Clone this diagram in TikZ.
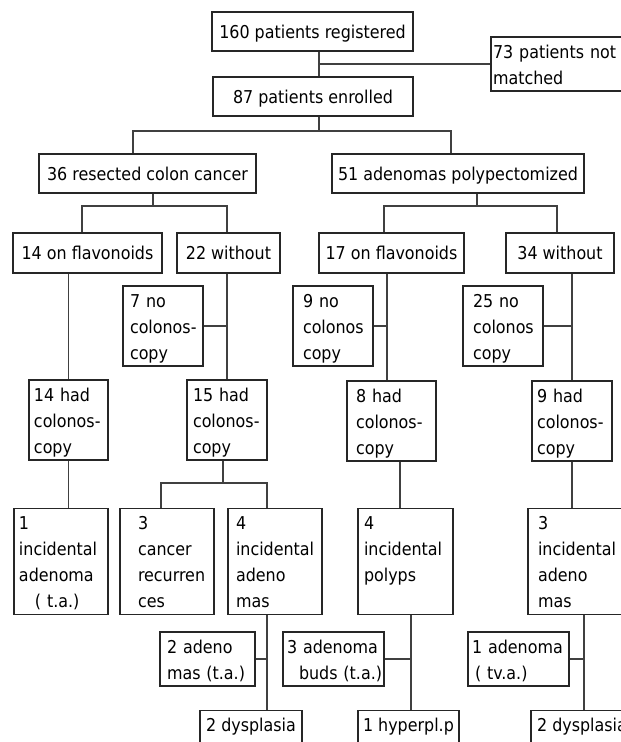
\documentclass[tikz,border=0pt]{standalone}
\usepackage{fontspec}
\setmainfont{DejaVu Sans Condensed}
\usepackage{tikz}
\hyphenpenalty=10000
\exhyphenpenalty=10000
\newcommand{\topstrut}{\rule{0pt}{21pt}}
\newcommand{\botstrut}{\rule[-7pt]{0pt}{7pt}}

\begin{document}
\begin{tikzpicture}[x=1pt, y=-1pt,
    box/.style={draw=black!85, line width=1.1pt, inner sep=0pt, font=\fontsize{17.7}{26}\selectfont,
        text height=13pt, text depth=0pt, minimum height=39pt},
    multi/.style={draw=black!85, line width=1.1pt, inner sep=0pt, font=\fontsize{17.7}{26}\selectfont,
        align=left, execute at begin node=\topstrut, execute at end node=\botstrut},
    last/.style={box, anchor=north, text depth=16pt, inner ysep=7.5pt},
    link/.style={draw=black!75, line width=1.1pt}]
    \useasboundingbox (0,0) rectangle (621,742);

    \node[box, minimum width=201pt] (reg) at (312.5,31.5) {160 patients registered};
    \node[box, minimum width=200pt] (enr) at (313,96.5) {87 patients enrolled};
    \node[multi, minimum width=134pt, text width=130pt] (nm) at (558,64) {73~patients~not\\matched};

    \node[box, minimum width=217pt] (rcc) at (147.5,173.5) {36 resected colon cancer};
    \node[box, minimum width=252pt] (ap) at (458,173.5) {51 adenomas polypectomized};

    \node[box, minimum width=149pt, minimum height=40pt] (fl1) at (87.5,253) {14 on flavonoids};
    \node[box, minimum width=103pt, minimum height=40pt] (wo1) at (228.5,253) {22 without};
    \node[box, minimum width=145pt, minimum height=40pt] (fl2) at (391.5,253) {17 on flavonoids};
    \node[box, minimum width=108pt, minimum height=40pt] (wo2) at (560,253) {34 without};

    \node[multi, minimum width=80pt, text width=66pt] (nc1) at (163,326) {7~no\\colonos-\\copy};
    \node[multi, minimum width=80pt, text width=60pt] (nc2) at (333,326) {9~no\\colonos\\copy};
    \node[multi, minimum width=80pt, text width=60pt] (nc3) at (503,326) {25~no\\colonos\\copy};

    \node[multi, minimum width=79pt, text width=69pt] (hc1) at (68.5,420) {14~had\\colonos-\\copy};
    \node[multi, minimum width=80pt, text width=68pt] (hc2) at (227,420) {15~had\\colonos-\\copy};
    \node[multi, minimum width=89pt, text width=71pt] (hc3) at (391.5,421) {8~had\\colonos-\\copy};
    \node[multi, minimum width=80pt, text width=70pt] (hc4) at (572,421) {9~had\\colonos-\\copy};

    \node[multi, minimum width=94pt, text width=84pt] (ia1) at (61,561.5) {1\\incidental\\adenoma\\\hspace*{16pt}(~t.a.)};
    \node[multi, minimum width=94pt, text width=58pt] (cr) at (167,561.5) {3\\cancer\\recurren\\ces};
    \node[multi, minimum width=94pt, text width=78pt] (ia2) at (275,561.5) {4\\incidental\\adeno\\mas};
    \node[multi, minimum width=95pt, text width=83pt] (ip) at (405.5,561.5) {4\\incidental\\polyps\\\mbox{}};
    \node[multi, minimum width=96pt, text width=76pt] (ia3) at (576,561.5) {3\\incidental\\adeno\\mas};

    \node[multi, minimum width=95pt, text width=81pt] (am1) at (207.5,659) {2~adeno\\mas~(t.a.)};
    \node[multi, minimum width=101pt, text width=93pt] (ab) at (333.5,659) {3~adenoma\\\hspace*{12pt}buds~(t.a.)};
    \node[multi, minimum width=101pt, text width=93pt] (am2) at (518.5,659) {1~adenoma\\\hspace*{3pt}(~tv.a.)};

    \node[last, minimum width=102pt] (dy1) at (251,710) {2 dysplasia};
    \node[last, minimum width=101pt] (hp) at (408.5,710) {1 hyperpl.p};
    \node[last, minimum width=102pt] (dy2) at (582,710) {2 dysplasia};

    % junctions
    \coordinate (j1) at (319,64);
    \coordinate (j2) at (319,131);
    \coordinate (j3) at (153,206);
    \coordinate (j4) at (477,206);
    \coordinate (j5) at (387,327);
    \coordinate (j6) at (223,483);
    \coordinate (j7) at (267,658);
    \coordinate (j8) at (411,658);
    \coordinate (j9) at (584,657);

    \draw[link] (reg.south -| j1) -- (enr.north -| j1);
    \draw[link] (j1) -- (j1 -| nm.west);
    \draw[link] (enr.south -| j2) -- (j2);
    \draw[link] ([xshift=-14.5pt]rcc.north) |- (j2) -| ([xshift=-7pt]ap.north);

    \draw[link] (rcc.south -| j3) -- (j3);
    \draw[link] ([xshift=-5.5pt]fl1.north) |- (j3) -| ([xshift=-1.5pt]wo1.north);
    \draw[link] (ap.south -| j4) -- (j4);
    \draw[link] ([xshift=-7.5pt]fl2.north) |- (j4) -| ([xshift=-3pt]wo2.north);

    \draw[link] (fl1.south -| hc1) -- (hc1.north);
    \draw[link] (wo1.south -| hc2) -- (hc2.north);
    \draw[link] (nc1.east) -- (nc1.east -| hc2);
    \draw[link] (fl2.south -| j5) -- (hc3.north -| j5);
    \draw[link] (nc2.east) -- (nc2.east -| j5);
    \draw[link] (wo2.south -| hc4) -- (hc4.north);
    \draw[link] (nc3.east) -- (nc3.east -| hc4);

    \draw[link] (hc1.south) -- (hc1.south |- ia1.north);
    \draw[link] (hc2.south -| j6) -- (j6);
    \draw[link] ([xshift=-6pt]cr.north) |- (j6) -| ([xshift=-8pt]ia2.north);
    \draw[link] ([xshift=-5.5pt]ip.north) -- ([xshift=-5.5pt]ip.north |- hc3.south);
    \draw[link] (hc4.south) -- (hc4.south |- ia3.north);

    \draw[link] (ia2.south -| j7) -- (dy1.north -| j7);
    \draw[link] (am1.east) -- (am1.east -| j7);
    \draw[link] (ip.south -| j8) -- (hp.north -| j8);
    \draw[link] (ab.east) -- (ab.east -| j8);
    \draw[link] (ia3.south -| j9) -- (dy2.north -| j9);
    \draw[link] (am2.east) -- (am2.east -| j9);
\end{tikzpicture}
\end{document}
